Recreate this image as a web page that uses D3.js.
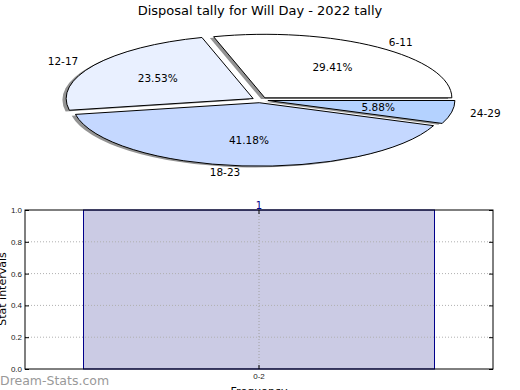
<!DOCTYPE html>
<html>
<head>
<meta charset="utf-8">
<script src="https://cdn.jsdelivr.net/npm/d3@7"></script>
<style>
  body { margin: 0; background: #fff; }
  svg { display: block; font-family: "DejaVu Sans", sans-serif; }
</style>
</head>
<body>
<div id="chart"></div>
<script>
// pie data
const pieLabels = ["6-11", "12-17", "18-23", "24-29"];
const pieValues = [5, 4, 7, 1];
const pieColors = ["#ffffff", "#e9f0ff", "#c5d8ff", "#b4d2ff"];

// bar data
const barCategories = ["0-2"];
const barValues = [1];
const yTicks = [0, 0.2, 0.4, 0.6, 0.8, 1.0];

const W = 520, H = 390;
const svg = d3.select("#chart").append("svg")
    .attr("width", W)
    .attr("height", H);

svg.append("text")
    .attr("x", 260)
    .attr("y", 15)
    .attr("text-anchor", "middle")
    .style("font-size", "13px")
    .text("Disposal tally for Will Day - 2022 tally");

// ---- pie (squashed into an ellipse) ----
const cx = 260, cy = 100, rx = 187, ry = 63.5;
const explode = 0.043;
const total = d3.sum(pieValues);

const pie = d3.pie()
    .sort(null)
    .startAngle(Math.PI / 2)
    .endAngle(Math.PI / 2 - 2 * Math.PI);

const arcs = pie(pieValues);
const unitArc = d3.arc().innerRadius(0).outerRadius(1);

const pieG = svg.append("g");

// shadows first
arcs.forEach(d => {
    const m = (d.startAngle + d.endAngle) / 2;
    const dx = explode * Math.sin(m) * rx - 0.02 * rx;
    const dy = -explode * Math.cos(m) * ry + 0.02 * ry;
    pieG.append("path")
        .attr("transform", `translate(${cx + dx},${cy + dy}) scale(${rx},${ry})`)
        .attr("d", unitArc(d))
        .style("fill", "#939393")
        .style("stroke", "none");
});

arcs.forEach((d, i) => {
    const m = (d.startAngle + d.endAngle) / 2;
    const ox = explode * Math.sin(m) * rx;
    const oy = -explode * Math.cos(m) * ry;
    pieG.append("path")
        .attr("transform", `translate(${cx + ox},${cy + oy}) scale(${rx},${ry})`)
        .attr("d", unitArc(d))
        .attr("vector-effect", "non-scaling-stroke")
        .style("fill", pieColors[i])
        .style("stroke", "#000")
        .style("stroke-width", 1);

    const sx = Math.sin(m), sy = -Math.cos(m);
    pieG.append("text")
        .attr("x", cx + ox + 1.1 * sx * rx)
        .attr("y", cy + oy + 1.1 * sy * ry)
        .attr("dy", "0.35em")
        .attr("text-anchor", sx > 0 ? "start" : "end")
        .style("font-size", "10.5px")
        .text(pieLabels[i]);

    pieG.append("text")
        .attr("x", cx + ox + 0.6 * sx * rx)
        .attr("y", cy + oy + 0.6 * sy * ry)
        .attr("dy", "0.35em")
        .attr("text-anchor", "middle")
        .style("font-size", "10.5px")
        .text((d.value / total * 100).toFixed(2) + "%");
});

// ---- bar chart ----
const bx0 = 25, bx1 = 493, by0 = 210, by1 = 369;

const x = d3.scaleBand()
    .domain(barCategories)
    .range([bx0, bx1])
    .paddingInner(0.25)
    .paddingOuter(0.125);

const y = d3.scaleLinear()
    .domain([0, 1])
    .range([by1, by0]);

const barG = svg.append("g");

barG.selectAll("rect.bar")
    .data(barValues)
    .enter()
    .append("rect")
    .attr("class", "bar")
    .attr("x", (d, i) => x(barCategories[i]))
    .attr("y", d => y(d))
    .attr("width", x.bandwidth())
    .attr("height", d => y(0) - y(d))
    .style("fill", "#cbcbe4")
    .style("stroke", "#00008b")
    .style("stroke-width", 1);

// grid
barG.selectAll("line.hgrid")
    .data(yTicks.filter(t => t > 0 && t < 1))
    .enter()
    .append("line")
    .attr("x1", bx0).attr("x2", bx1)
    .attr("y1", d => y(d)).attr("y2", d => y(d))
    .style("stroke", "#b0b0b0")
    .style("stroke-dasharray", "1,2");

barG.selectAll("line.vgrid")
    .data(barCategories)
    .enter()
    .append("line")
    .attr("x1", d => x(d) + x.bandwidth() / 2)
    .attr("x2", d => x(d) + x.bandwidth() / 2)
    .attr("y1", by0).attr("y2", by1)
    .style("stroke", "#a0a0a0")
    .style("stroke-dasharray", "1,2");

// frame
barG.append("rect")
    .attr("x", bx0).attr("y", by0)
    .attr("width", bx1 - bx0).attr("height", by1 - by0)
    .style("fill", "none")
    .style("stroke", "#000")
    .style("stroke-width", 1);

// y ticks
const yAxis = barG.append("g")
    .attr("transform", `translate(${bx0},0)`)
    .call(d3.axisLeft(y).tickValues(yTicks).tickFormat(d3.format(".1f")).tickSize(-4).tickPadding(3));
yAxis.select(".domain").remove();
yAxis.selectAll("text").style("font-size", "8px").style("fill", "#222");

barG.append("g")
    .attr("transform", `translate(${bx1},0)`)
    .call(d3.axisRight(y).tickValues(yTicks).tickFormat("").tickSize(-4))
    .select(".domain").remove();

// x ticks
const xAxis = barG.append("g")
    .attr("transform", `translate(0,${by1})`)
    .call(d3.axisBottom(x).tickSize(-4).tickPadding(4));
xAxis.select(".domain").remove();
xAxis.selectAll("text").style("font-size", "8px").style("fill", "#222");

barG.append("g")
    .attr("transform", `translate(0,${by0})`)
    .call(d3.axisTop(x).tickFormat("").tickSize(-4))
    .select(".domain").remove();

// value label
barG.selectAll("text.val")
    .data(barValues)
    .enter()
    .append("text")
    .attr("x", (d, i) => x(barCategories[i]) + x.bandwidth() / 2)
    .attr("y", d => y(d) - 1)
    .attr("text-anchor", "middle")
    .style("font-size", "10px")
    .style("fill", "#00008b")
    .text(d => d);

// axis titles (partly clipped at the edges, as in the original)
svg.append("text")
    .attr("x", 259)
    .attr("y", 395)
    .attr("text-anchor", "middle")
    .style("font-size", "11px")
    .text("Frequency");

svg.append("text")
    .attr("transform", "translate(6,289) rotate(-90)")
    .attr("text-anchor", "middle")
    .style("font-size", "11px")
    .text("Stat intervals");

svg.append("text")
    .attr("x", 0)
    .attr("y", 385)
    .style("font-size", "12.5px")
    .style("fill", "#999")
    .text("Dream-Stats.com");
</script>
</body>
</html>
